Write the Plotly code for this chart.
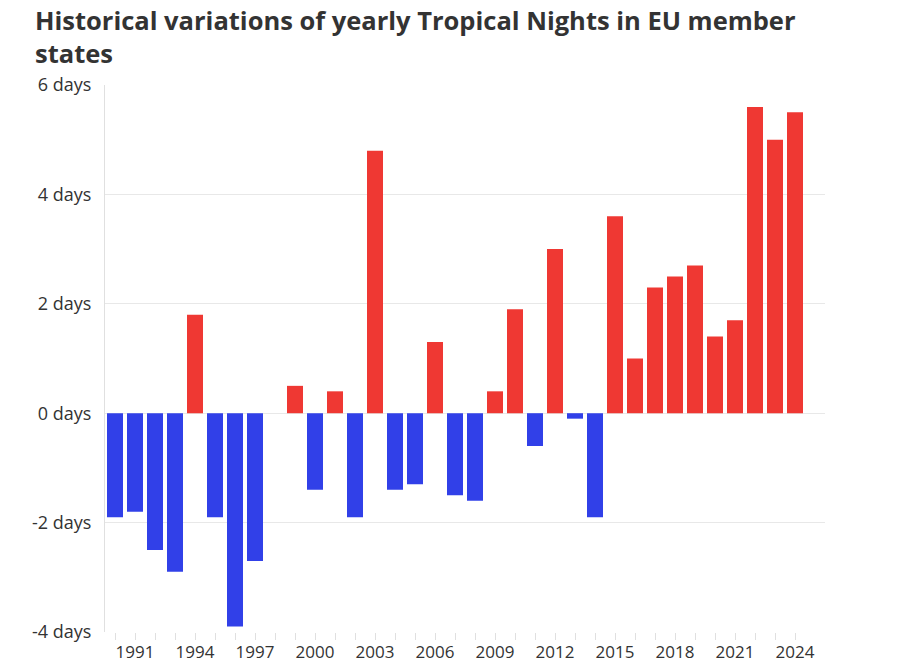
import plotly.graph_objects as go

years = list(range(1990, 2025))
values = [-1.9, -1.8, -2.5, -2.9, 1.8, -1.9, -3.9, -2.7, 0.0, 0.5,
          -1.4, 0.4, -1.9, 4.8, -1.4, -1.3, 1.3, -1.5, -1.6, 0.4,
          1.9, -0.6, 3.0, -0.1, -1.9, 3.6, 1.0, 2.3, 2.5, 2.7,
          1.4, 1.7, 5.6, 5.0, 5.5]
ytick_vals = [-4, -2, 0, 2, 4, 6]
ytick_text = ["-4 days", "-2 days", "0 days", "2 days", "4 days", "6 days"]
xtick_text = [str(y) if (y - 1991) % 3 == 0 else "" for y in years]
title_text = "<b>Historical variations of yearly Tropical Nights in EU member<br>states</b>"

RED = "#ef3833"
BLUE = "#3140e8"
colors = [RED if v > 0 else BLUE for v in values]

L, R, T, B = 105, 75, 85, 28
W, H = 900, 660
pw, ph = W - L - R, H - T - B

fig = go.Figure(go.Bar(
    x=years, y=values,
    marker=dict(color=colors, line=dict(width=0)),
    width=0.8,
    hoverinfo="x+y",
))

fig.update_layout(
    width=W, height=H,
    margin=dict(l=L, r=R, t=T, b=B),
    paper_bgcolor="white", plot_bgcolor="white",
    font=dict(family="Open Sans", size=18, color="#333333"),
    showlegend=False,
    bargap=0.2,
    annotations=[dict(
        text=title_text, showarrow=False,
        xref="paper", yref="paper",
        x=(33 - L) / pw, y=1 + (T - 1) / ph,
        xanchor="left", yanchor="top", align="left",
        font=dict(family="Open Sans", size=25.5, color="#333333"),
    )],
)
fig.update_xaxes(
    range=[1989.5, 2025.5],
    tickmode="array", tickvals=years, ticktext=xtick_text,
    ticks="outside", ticklen=7, tickcolor="#e0e0e0", tickwidth=1,
    showgrid=False, showline=False, zeroline=False,
    automargin=False, tickfont=dict(size=17, color="#333333"),
    ticklabelstandoff=-2,
)
fig.update_yaxes(
    range=[-4, 6],
    tickmode="array", tickvals=ytick_vals, ticktext=ytick_text,
    showgrid=True, gridcolor="#e8e8e8", gridwidth=1,
    zeroline=False, showline=True, linecolor="#e0e0e0", linewidth=1,
    ticks="", ticklabelstandoff=9,
    automargin=False, tickfont=dict(size=18, color="#333333"),
)

fig.write_html("out.html")
